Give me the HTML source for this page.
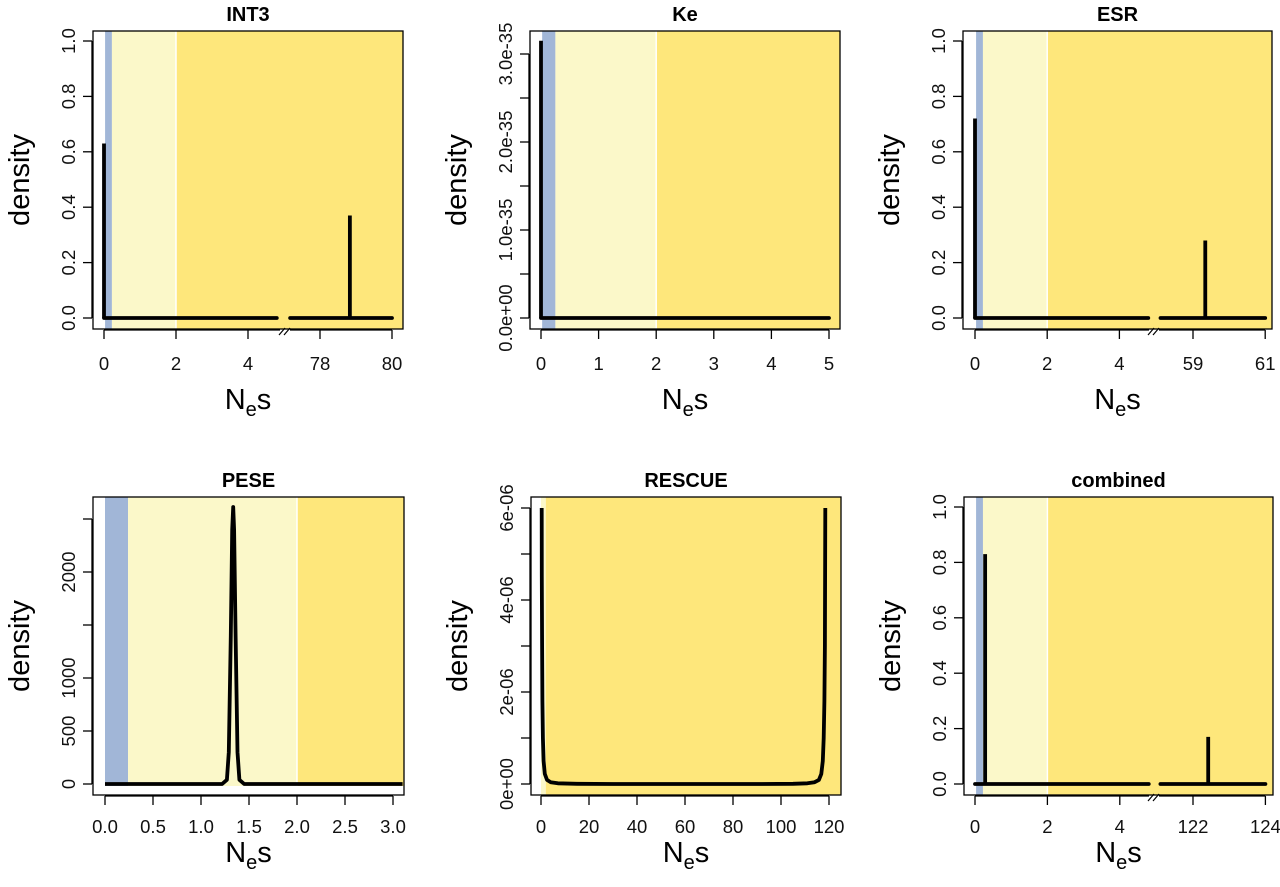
<!DOCTYPE html>
<html><head><meta charset="utf-8"><style>
html,body{margin:0;padding:0;background:#fff;}
svg{display:block;font-family:"Liberation Sans",Arial,sans-serif;}
</style></head><body>
<svg id="fig" width="1280" height="887" viewBox="0 0 1280 887"></svg>
<script>
// ---- data ----
const int3SpikeX = [0, 78.83];
const int3SpikeY = [0.63, 0.37];
const keSpikeX = [0];
const keSpikeY = [3.15e-35];
const esrSpikeX = [0, 59.34];
const esrSpikeY = [0.72, 0.28];
const combSpikeX = [0.28, 122.42];
const combSpikeY = [0.83, 0.17];
const peseX = [0, 1.22, 1.27, 1.29, 1.31, 1.325, 1.335, 1.345, 1.36, 1.38, 1.4, 1.45, 3.1];
const peseY = [0, 0, 40, 300, 1400, 2400, 2613, 2400, 1400, 300, 40, 0, 0];
const rescueX = [0.3, 0.35, 0.45, 0.6, 0.8, 1.1, 1.6, 2.5, 4, 7, 15, 30, 60, 90, 105, 111, 114, 115.8, 116.8, 117.4, 117.8, 118.1, 118.3, 118.45];
const rescueY = [6e-6, 4.5e-6, 3e-6, 1.8e-6, 1e-6, 5e-7, 2.2e-7, 9e-8, 4e-8, 1.5e-8, 5e-9, 0, 0, 0, 5e-9, 1.5e-8, 4e-8, 9e-8, 2.2e-7, 5e-7, 1e-6, 1.8e-6, 3e-6, 6e-6];
const topYTicks = [0, 0.2, 0.4, 0.6, 0.8, 1.0];
const topYLabels = ["0.0", "0.2", "0.4", "0.6", "0.8", "1.0"];
const keYTicks = [0, 0.5e-35, 1e-35, 1.5e-35, 2e-35, 2.5e-35, 3e-35];
const keYLabels = ["0.0e+00", "", "1.0e-35", "", "2.0e-35", "", "3.0e-35"];
const peseYTicks = [0, 500, 1000, 1500, 2000, 2500];
const peseYLabels = ["0", "500", "1000", "", "2000", ""];
const rescueYTicks = [0, 1e-6, 2e-6, 3e-6, 4e-6, 5e-6, 6e-6];
const rescueYLabels = ["0e+00", "", "2e-06", "", "4e-06", "", "6e-06"];
const int3XTicks = [0, 2, 4, 78, 80];
const esrXTicks = [0, 2, 4, 59, 61];
const combXTicks = [0, 2, 4, 122, 124];
const keXTicks = [0, 1, 2, 3, 4, 5];
const peseXTicks = [0, 0.5, 1, 1.5, 2, 2.5, 3];
const peseXLabels = ["0.0", "0.5", "1.0", "1.5", "2.0", "2.5", "3.0"];
const rescueXTicks = [0, 20, 40, 60, 80, 100, 120];

const NS = "http://www.w3.org/2000/svg";
const svg = document.getElementById("fig");
const BLUE = "#a1b6d7", LIGHT = "#fbf8c9", DARK = "#fee77b";

function el(tag, attrs, parent) {
  const e = document.createElementNS(NS, tag);
  for (const k in attrs) e.setAttribute(k, attrs[k]);
  (parent || svg).appendChild(e);
  return e;
}

function panel(p) {
  const g = el("g", {});
  
  
  const b = p.box;
  const sb = p.shadeBottom || b.b;
  const shades = [[p.blue[0], p.blue[1], BLUE], [p.blue[1], 2, LIGHT], [2, null, DARK]];
  shades.forEach((s, i) => {
    const x0 = p.xs(s[0]);
    const x1 = s[1] === null ? b.r : p.xs(s[1]);
    const r = el("rect", {x: x0, y: b.t, width: Math.max(0, x1 - x0), height: sb - b.t, fill: s[2]}, g);
    
    
  });
  if (p.rescueShade) {
    const x0 = p.xs(p.rescueShade);
    const r = el("rect", {x: x0, y: b.t, width: b.r - x0, height: b.b - b.t, fill: DARK}, g);
    
    
  }
  if (!p.rescueShade) {
    el("line", {x1: p.xs(2), x2: p.xs(2), y1: b.t, y2: sb, stroke: "#fff", "stroke-width": 1.5}, g);
  }
  const lw = 3.8;
  if (p.spikesX) {
    p.segments.forEach(sg => {
      const l = el("line", {x1: p.xs(sg[0]), x2: p.xs(sg[1]), y1: p.ys(0), y2: p.ys(0), stroke: "#000", "stroke-width": lw, "stroke-linecap": "round"}, g);
      
      
    });
    p.spikesX.forEach((x, i) => {
      const l = el("line", {x1: p.xs(x), x2: p.xs(x), y1: p.ys(0), y2: p.ys(p.spikesY[i]), stroke: "#000", "stroke-width": lw, "stroke-linecap": "butt"}, g);
      
      
    });
  } else {
    const d = p.lx.map((x, i) => (i ? "L" : "M") + p.xs(x).toFixed(1) + "," + p.ys(p.ly[i]).toFixed(1)).join(" ");
    const l = el("path", {d: d, fill: "none", stroke: "#000", "stroke-width": lw, "stroke-linejoin": "round"}, g);
    
    
  }
  const bx = el("rect", {x: b.l, y: b.t, width: b.r - b.l, height: b.b - b.t, fill: "none", stroke: "#000", "stroke-width": 1.3}, g);
  
  
  const ax = el("g", {}, g);
  
  
  const ay0 = b.b + 1;
  if (p.breakAt) {
    el("line", {x1: p.xs(p.xTicks[0]), x2: p.breakAt - 5, y1: ay0, y2: ay0, stroke: "#000", "stroke-width": 1.3}, ax);
    el("line", {x1: p.breakAt + 5, x2: p.xs(p.xTicks[p.xTicks.length - 1]), y1: ay0, y2: ay0, stroke: "#000", "stroke-width": 1.3}, ax);
    el("line", {x1: p.breakAt - 6, x2: p.breakAt, y1: ay0 + 5, y2: ay0 - 2, stroke: "#000", "stroke-width": 1.2}, ax);
    el("line", {x1: p.breakAt - 1, x2: p.breakAt + 5, y1: ay0 + 5, y2: ay0 - 2, stroke: "#000", "stroke-width": 1.2}, ax);
  } else {
    el("line", {x1: p.xs(p.xTicks[0]), x2: p.xs(p.xTicks[p.xTicks.length - 1]), y1: ay0, y2: ay0, stroke: "#000", "stroke-width": 1.3}, ax);
  }
  p.xTicks.forEach((t, i) => {
    const x = p.xs(t);
    el("line", {x1: x, x2: x, y1: ay0, y2: ay0 + 9, stroke: "#000", "stroke-width": 1.3}, ax);
    const tx = el("text", {x: x, y: ay0 + p.tickOff, "font-size": 18.5, "text-anchor": "middle", fill: "#111"}, ax);
    tx.textContent = p.xLabels ? p.xLabels[i] : String(t);
    
    
  });
  const ayg = el("g", {}, g);
  
  
  const axx = b.l - 1;
  el("line", {x1: axx, x2: axx, y1: p.ys(p.yTicks[0]), y2: p.ys(p.yTicks[p.yTicks.length - 1]), stroke: "#000", "stroke-width": 1.3}, ayg);
  p.yTicks.forEach((t, i) => {
    const y = p.ys(t);
    el("line", {x1: axx - 9, x2: axx, y1: y, y2: y, stroke: "#000", "stroke-width": 1.3}, ayg);
    if (p.yLabels[i]) {
      const lx = axx - 17;
      const tx = el("text", {x: lx, y: y, "font-size": 18.5, "text-anchor": "middle", fill: "#111", transform: "rotate(-90 " + lx + " " + y + ")"}, ayg);
      tx.textContent = p.yLabels[i];
      
      
    }
  });
  const cx = (b.l + b.r) / 2;
  const tt = el("text", {x: cx, y: b.t - 10, "font-size": 20, "font-weight": "bold", "text-anchor": "middle"}, g);
  tt.textContent = p.title;
  
  
  const xt = el("text", {x: cx, y: b.b + p.titleOff, "font-size": 29, "text-anchor": "middle"}, g);
  xt.innerHTML = 'N<tspan font-size="20" dy="7">e</tspan><tspan dy="-7">s</tspan>';
  
  
  const yx = b.l - 64, yy = (b.t + b.b) / 2;
  const yt = el("text", {x: yx, y: yy, "font-size": 29, "text-anchor": "middle", transform: "rotate(-90 " + yx + " " + yy + ")"}, g);
  yt.textContent = "density";
  
  
}

function brokenX(x0px, unit, lowEnd, hiStart, hiBasePx, hiBaseVal) {
  return v => v <= lowEnd + 1e-9 ? x0px + v * unit : hiBasePx + (v - hiBaseVal) * unit;
}

const TOP = {tickOff: 40, titleOff: 80};
const BOT = {tickOff: 37, titleOff: 67};

panel(Object.assign({name: "int3", title: "INT3", box: {l: 93, r: 403, t: 31, b: 329},
  xs: brokenX(104, 36, 5, 77, 320, 78), ys: v => 318 - v * 277,
  blue: [0.03, 0.22], xTicks: int3XTicks, yTicks: topYTicks, yLabels: topYLabels, breakAt: 285,
  spikesX: int3SpikeX, spikesY: int3SpikeY, segments: [[0, 4.8], [77.17, 80]]}, TOP));
panel(Object.assign({name: "ke", title: "Ke", box: {l: 530, r: 840, t: 31, b: 329},
  xs: v => 541 + v * 57.6, ys: v => 318 - v / 1e-35 * 88,
  blue: [0.02, 0.25], xTicks: keXTicks, yTicks: keYTicks, yLabels: keYLabels,
  spikesX: keSpikeX, spikesY: keSpikeY, segments: [[0, 5]]}, TOP));
panel(Object.assign({name: "esr", title: "ESR", box: {l: 963, r: 1272, t: 31, b: 329},
  xs: brokenX(975, 36.1, 5, 58, 1193, 59), ys: v => 318 - v * 277,
  blue: [0.03, 0.22], xTicks: esrXTicks, yTicks: topYTicks, yLabels: topYLabels, breakAt: 1154,
  spikesX: esrSpikeX, spikesY: esrSpikeY, segments: [[0, 4.8], [58.1, 61]]}, TOP));
panel(Object.assign({name: "pese", title: "PESE", box: {l: 93, r: 404, t: 497, b: 795}, shadeBottom: 786,
  xs: v => 105 + v * 96, ys: v => 784 - v * 0.106,
  blue: [0, 0.24], xTicks: peseXTicks, xLabels: peseXLabels, yTicks: peseYTicks, yLabels: peseYLabels,
  lx: peseX, ly: peseY}, BOT));
panel(Object.assign({name: "rescue", title: "RESCUE", box: {l: 531, r: 841, t: 497, b: 795}, rescueShade: 2.9,
  xs: v => 541 + v * 2.4, ys: v => 784 - v * 46e6,
  blue: [0, 0], xTicks: rescueXTicks, yTicks: rescueYTicks, yLabels: rescueYLabels,
  lx: rescueX, ly: rescueY}, BOT));
panel(Object.assign({name: "combined", title: "combined", box: {l: 964, r: 1273, t: 497, b: 795},
  xs: brokenX(975, 36.2, 5, 121, 1193, 122), ys: v => 784 - v * 277,
  blue: [0.03, 0.22], xTicks: combXTicks, yTicks: topYTicks, yLabels: topYLabels, breakAt: 1154,
  spikesX: combSpikeX, spikesY: combSpikeY, segments: [[0, 4.8], [121.1, 124]]}, BOT));
</script>
</body></html>
